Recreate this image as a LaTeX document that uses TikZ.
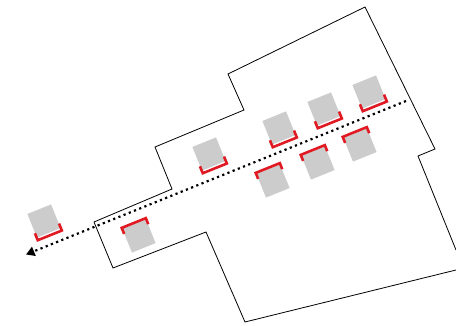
\documentclass[tikz,border=0pt]{standalone}
\usepackage{tikz}
\usetikzlibrary{arrows.meta}
\definecolor{lotgray}{HTML}{CCCCCC}
\definecolor{lotred}{HTML}{E01A22}
\tikzstyle{lot} = [rectangle, fill=lotgray, minimum size=25.5pt, inner sep=0pt, rotate=22]
\tikzstyle{frontage} = [draw=lotred, line width=2.6pt, miter limit=10]
\tikzstyle{route} = [black, line width=2.2pt, dash pattern=on 2.2pt off 3.4pt]

\begin{document}
\begin{tikzpicture}[x=1pt, y=-1pt]
    \useasboundingbox (0,0) rectangle (456,326);

    % Defining boundary
    \draw[black, line width=0.8pt] (94,222) -- (172,189) -- (155,147) -- (244,110) -- (228,74) -- (365,7) -- (435,149) -- (418,156) -- (456,250);
    \draw[black, line width=0.8pt] (456,270) -- (245,322) -- (206,232) -- (113,268) -- (94,222);

    % Defining lots, frontage below
    \foreach \name/\x/\y in {LotA/44/221, LotB/209/154, LotC/279/128, LotD/324/109, LotE/369/92} {
        \node[lot] (\name) at (\x,\y) {};
        \draw[frontage, shift={(\name)}, rotate=22] (-13,8) -- (-13,15.5) -- (13,15.5) -- (13,8);
    }
    % Defining lots, frontage above
    \foreach \name/\x/\y in {LotF/139/236, LotG/273/181, LotH/318/163, LotI/360/145} {
        \node[lot] (\name) at (\x,\y) {};
        \draw[frontage, shift={(\name)}, rotate=22] (-13,-7.5) -- (-13,-14) -- (13,-14) -- (13,-7.5);
    }

    % Drawing route
    \coordinate (RouteStart) at (406,101);
    \coordinate (RouteEnd) at (26,254.5);
    \draw[route, -{Triangle[length=8.5pt, width=9.5pt]}] (RouteStart) -- (RouteEnd);
\end{tikzpicture}
\end{document}
